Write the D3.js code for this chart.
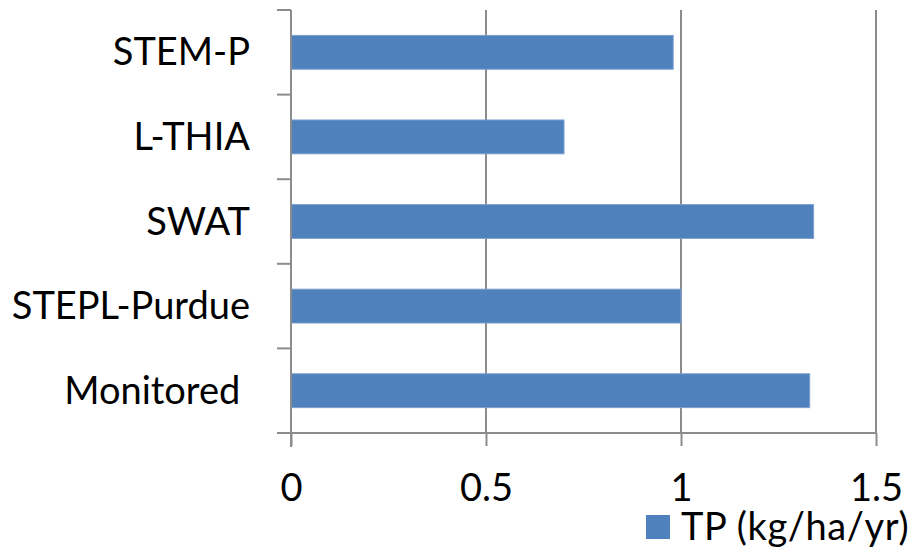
<!DOCTYPE html>
<html>
<head>
<meta charset="utf-8">
<script src="https://cdn.jsdelivr.net/npm/d3@7"></script>
<style>
  body { margin: 0; background: #fff; }
  text { font-family: Lato, "Open Sans", sans-serif; fill: #000; }
</style>
</head>
<body>
<div id="chart"></div>
<script>
// data, top to bottom as shown
var categories = ["STEM-P", "L-THIA", "SWAT", "STEPL-Purdue", "Monitored "];
var tpValues = [0.98, 0.70, 1.34, 1.00, 1.33];
var xTicks = [0, 0.5, 1, 1.5];
var seriesName = "TP (kg/ha/yr)";

var W = 911, H = 549;
var margin = {top: 10, right: 35, bottom: 116, left: 291},
    width = W - margin.left - margin.right,
    height = H - margin.top - margin.bottom;

var svg = d3.select("#chart")
  .append("svg")
  .attr("width", W)
  .attr("height", H)
  .append("g")
  .attr("transform", "translate(" + margin.left + "," + margin.top + ")");

var x = d3.scaleLinear()
  .domain([0, 1.5])
  .range([0, width]);

var y = d3.scaleBand()
  .domain(categories)
  .range([0, height])
  .paddingInner(0.6)
  .paddingOuter(0.3);

var gridColor = "#8c8c8c";

// vertical gridlines
svg.append("g")
  .selectAll("line")
  .data(xTicks.slice(1)).enter()
  .append("line")
  .attr("x1", function(d) { return x(d); })
  .attr("x2", function(d) { return x(d); })
  .attr("y1", 0)
  .attr("y2", height)
  .style("stroke", gridColor)
  .style("stroke-width", 2);

// bars
svg.append("g")
  .selectAll("rect")
  .data(tpValues).enter()
  .append("rect")
  .attr("x", x(0))
  .attr("y", function(d, i) { return y(categories[i]); })
  .attr("width", function(d) { return x(d) - x(0); })
  .attr("height", y.bandwidth())
  .style("fill", "#4f81bd")
  .style("stroke", "#7c9fd0")
  .style("stroke-width", 1);

// left axis line + boundary ticks
var step = height / categories.length;
var bounds = d3.range(categories.length + 1).map(function(i) { return i * step; });
svg.append("line")
  .attr("x1", 0).attr("x2", 0)
  .attr("y1", 0).attr("y2", height + 14)
  .style("stroke", gridColor)
  .style("stroke-width", 2);
svg.append("g")
  .selectAll("line")
  .data(bounds).enter()
  .append("line")
  .attr("x1", -14).attr("x2", 0)
  .attr("y1", function(d) { return d; })
  .attr("y2", function(d) { return d; })
  .style("stroke", gridColor)
  .style("stroke-width", 2);

// category labels
svg.append("g")
  .selectAll("text")
  .data(categories).enter()
  .append("text")
  .attr("x", -41)
  .attr("y", function(d) { return y(d) + y.bandwidth() / 2 + 13; })
  .style("text-anchor", "end")
  .style("font-size", "38px")
  .style("white-space", "pre")
  .text(function(d) { return d; });

// bottom axis
var xAxis = d3.axisBottom(x)
  .tickValues(xTicks)
  .tickSize(13)
  .tickPadding(0)
  .tickFormat(function(d) { return d; });

var gx = svg.append("g")
  .attr("transform", "translate(0," + height + ")")
  .call(xAxis);
gx.select(".domain")
  .attr("d", "M-14,0H" + width)
  .style("stroke", gridColor)
  .style("stroke-width", 2);
gx.selectAll(".tick line")
  .style("stroke", gridColor)
  .style("stroke-width", 2);
gx.selectAll(".tick text")
  .attr("y", 0)
  .attr("dy", 0)
  .attr("transform", "translate(0,68)")
  .style("font-size", "38px")
  .style("font-family", "Lato, sans-serif")
  .style("fill", "#000");

// legend
var legend = svg.append("g")
  .attr("transform", "translate(" + (646 - margin.left) + "," + (515 - margin.top) + ")");
legend.append("rect")
  .attr("width", 24)
  .attr("height", 24)
  .style("fill", "#4f81bd");
legend.append("text")
  .attr("x", 35)
  .attr("y", 25)
  .style("font-size", "38px")
  .style("letter-spacing", "0.6px")
  .text(seriesName);
</script>
</body>
</html>
